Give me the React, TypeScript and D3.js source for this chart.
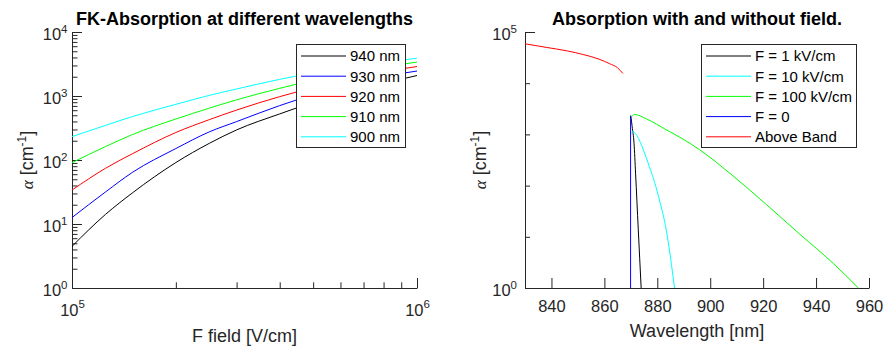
import { useEffect, useRef } from "react"
import * as d3 from "d3"

const W = 886
const H = 348

// left panel: FK absorption vs. field strength
const fieldValues = [1e5, 1.25e5, 1.5e5, 2e5, 2.5e5, 3e5, 4e5, 5e5, 7e5, 1e6]
const wavelengthLabels = ["940 nm", "930 nm", "920 nm", "910 nm", "900 nm"]
const alpha940 = [4.47, 14.1, 30.9, 91.2, 182, 295, 525, 794, 1318, 2089]
const alpha930 = [12.6, 31.6, 64.6, 151, 275, 398, 708, 1047, 1738, 2455]
const alpha920 = [33.9, 74.1, 126, 269, 427, 603, 977, 1349, 2089, 2884]
const alpha910 = [90.8, 162, 251, 437, 646, 871, 1318, 1758, 2512, 3388]
const alpha900 = [232, 347, 479, 741, 1023, 1288, 1820, 2291, 3055, 3890]
const fkColors = ["#000000", "#0000ff", "#ff0000", "#00ff00", "#00ffff"]

// right panel: absorption vs. wavelength
const fieldLabels = ["F = 1 kV/cm", "F = 10 kV/cm", "F = 100 kV/cm", "F = 0", "Above Band"]
const lambdaF1 = [870.0, 870.5, 871.2, 871.8, 872.8, 873.9]
const alphaF1 = [2291, 1413, 676, 170, 14.1, 1]
const lambdaF10 = [870.1, 870.8, 872, 873.2, 875, 877, 879, 880.8, 883.4, 886.5]
const alphaF10 = [1047, 1122, 1000, 776, 457, 234, 115, 52.5, 13.5, 1]
const lambdaF100 = [870.1, 871.3, 876, 883.4, 890, 896, 908.6, 921.2, 933.9, 946.5, 956]
const alphaF100 = [2138, 2455, 1995, 1230, 794, 501, 155, 42.7, 11.2, 3.02, 1]
const lambdaF0 = [869.9, 869.9]
const alphaF0 = [1, 2344]
const lambdaAbove = [830, 838, 846, 852, 858, 862, 865, 867]
const alphaAbove = [58900, 50100, 42700, 36300, 29500, 24000, 19950, 15500]
const fieldColors = ["#000000", "#00ffff", "#00ff00", "#0000ff", "#ff0000"]

const wavelengthTicks = [840, 860, 880, 900, 920, 940, 960]

export default function App() {
  const svgRef = useRef<SVGSVGElement>(null)

  useEffect(() => {
    if (!svgRef.current) return
    const svg = d3.select(svgRef.current)
    svg.selectAll("*").remove()

    const axisColor = "#262626"
    const font = "'Liberation Sans', Arial, Helvetica, sans-serif"
    const top = 32
    const bottom = 288

    const xL = d3.scaleLog().domain([1e5, 1e6]).range([72, 417])
    const yL = d3.scaleLog().domain([1, 1e4]).range([bottom, top])
    const xR = d3.scaleLinear().domain([830, 960]).range([525, 869])
    const yR = d3.scaleLog().domain([1, 1e5]).range([bottom, top])

    const defs = svg.append("defs")
    defs.append("clipPath").attr("id", "clipL").append("rect")
      .attr("x", 72).attr("y", top - 1).attr("width", 346).attr("height", bottom - top + 2)
    defs.append("clipPath").attr("id", "clipR").append("rect")
      .attr("x", 525).attr("y", top - 1).attr("width", 345).attr("height", bottom - top + 2)

    // 10^n labels
    const sup = (sel: any, rise: number, y: number, dy: number) => {
      sel.each(function (this: any, d: any) {
        const t = d3.select(this)
        t.text(null).attr("y", y).attr("dy", dy)
        t.append("tspan").text("10")
        t.append("tspan").attr("dy", -rise).attr("font-size", 11.5)
          .text(String(Math.round(Math.log10(d))))
      })
    }

    const styleAxis = (g: any) => {
      g.attr("font-family", font).attr("font-size", 16.5).attr("color", axisColor)
      g.selectAll("line").attr("stroke", axisColor)
      g.selectAll("path").attr("stroke", axisColor)
    }

    // ---------- left panel ----------
    const minorsL: number[] = []
    for (let e = 0; e < 4; e++) for (let m = 2; m <= 9; m++) minorsL.push(m * 10 ** e)
    const minorsLx: number[] = []
    for (let m = 2; m <= 9; m++) minorsLx.push(m * 1e5)

    const gyL = svg.append("g").attr("transform", "translate(72,0)")
      .call(d3.axisLeft(yL).tickValues([1, 10, 100, 1000, 10000]).tickSize(-10).tickSizeOuter(0).tickPadding(4.5))
    styleAxis(gyL)
    sup(gyL.selectAll("text"), 7, 0, 7.5)
    svg.append("g").attr("transform", "translate(72,0)")
      .call(d3.axisLeft(yL).tickValues(minorsL).tickSize(-5.5).tickFormat(() => ""))
      .call((g) => g.select(".domain").remove())
      .call(styleAxis)

    const gxL = svg.append("g").attr("transform", `translate(0,${bottom})`)
      .call(d3.axisBottom(xL).tickValues([1e5, 1e6]).tickSize(-10).tickSizeOuter(0))
    styleAxis(gxL)
    sup(gxL.selectAll("text"), 8, 27.7, 0)
    svg.append("g").attr("transform", `translate(0,${bottom})`)
      .call(d3.axisBottom(xL).tickValues(minorsLx).tickSize(-5.7).tickFormat(() => ""))
      .call((g) => g.select(".domain").remove())
      .call(styleAxis)

    const fkSeries = [alpha940, alpha930, alpha920, alpha910, alpha900]
    const lineL = d3.line<[number, number]>()
      .x((d) => xL(d[0])).y((d) => yL(d[1]))
      .curve(d3.curveMonotoneX)
    const plotL = svg.append("g").attr("clip-path", "url(#clipL)")
    fkSeries.forEach((vals, i) => {
      plotL.append("path")
        .datum(fieldValues.map((f, j) => [f, vals[j]] as [number, number]))
        .attr("d", lineL)
        .attr("fill", "none")
        .attr("stroke", fkColors[i])
        .attr("stroke-width", 1)
    })

    // ---------- right panel ----------
    const gyR = svg.append("g").attr("transform", "translate(525,0)")
      .call(d3.axisLeft(yR).tickValues([1, 1e5]).tickSize(-10).tickSizeOuter(0).tickPadding(8))
    styleAxis(gyR)
    sup(gyR.selectAll("text"), 7, 0, 7.7)
    svg.append("g").attr("transform", "translate(525,0)")
      .call(d3.axisLeft(yR).tickValues([10, 100, 1000, 10000]).tickSize(-5).tickFormat(() => ""))
      .call((g) => g.select(".domain").remove())
      .call(styleAxis)

    const gxR = svg.append("g").attr("transform", `translate(0,${bottom})`)
      .call(d3.axisBottom(xR).tickValues(wavelengthTicks).tickSize(-10).tickSizeOuter(0).tickFormat(d3.format("d")))
    styleAxis(gxR)
    gxR.selectAll("text").attr("y", 24.3).attr("dy", 0)

    const fieldSeries: [number[], number[]][] = [
      [lambdaF1, alphaF1],
      [lambdaF10, alphaF10],
      [lambdaF100, alphaF100],
      [lambdaF0, alphaF0],
      [lambdaAbove, alphaAbove],
    ]
    const lineR = d3.line<[number, number]>()
      .x((d) => xR(d[0])).y((d) => yR(d[1]))
      .curve(d3.curveMonotoneX)
    const plotR = svg.append("g").attr("clip-path", "url(#clipR)")
    fieldSeries.forEach(([xs, ys], i) => {
      plotR.append("path")
        .datum(xs.map((x, j) => [x, ys[j]] as [number, number]))
        .attr("d", xs === lambdaF0 ? lineR.curve(d3.curveLinear) : lineR.curve(d3.curveMonotoneX))
        .attr("fill", "none")
        .attr("stroke", fieldColors[i])
        .attr("stroke-width", 1)
    })

    // ---------- titles & labels ----------
    const title = (x: number, text: string) =>
      svg.append("text").attr("x", x).attr("y", 25)
        .attr("text-anchor", "middle").attr("font-family", font)
        .attr("font-size", 18).attr("font-weight", "bold").attr("fill", "#000")
        .text(text)
    title((72 + 417) / 2, "FK-Absorption at different wavelengths")
    title((525 + 869) / 2, "Absorption with and without field.")

    const xLabel = (x: number, y: number, text: string) =>
      svg.append("text").attr("x", x).attr("y", y)
        .attr("text-anchor", "middle").attr("font-family", font)
        .attr("font-size", 18).attr("fill", axisColor).text(text)
    xLabel((72 + 417) / 2, 341.5, "F field [V/cm]")
    xLabel((525 + 869) / 2, 337.3, "Wavelength [nm]")

    const yLabel = (x: number) => {
      const t = svg.append("text")
        .attr("transform", `translate(${x},160) rotate(-90)`)
        .attr("text-anchor", "middle").attr("font-family", font)
        .attr("font-size", 18).attr("fill", axisColor)
      t.append("tspan").attr("font-family", "'Liberation Serif', 'DejaVu Serif', serif")
        .attr("font-style", "italic").attr("font-size", 17).text("α")
      t.append("tspan").text(" [cm")
      t.append("tspan").attr("dy", -7).attr("font-size", 12).text("-1")
      t.append("tspan").attr("dy", 7).text("]")
    }
    yLabel(33)
    yLabel(486)

    // ---------- legends ----------
    const legend = (x: number, w: number, labels: string[], colors: string[]) => {
      const g = svg.append("g")
      g.append("rect").attr("x", x + 0.5).attr("y", 44.5).attr("width", w).attr("height", 103)
        .attr("fill", "#fff").attr("stroke", axisColor).attr("stroke-width", 1)
      labels.forEach((lab, i) => {
        const cy = 56 + i * 20.2
        g.append("line").attr("x1", x + 5).attr("x2", x + 50)
          .attr("y1", cy).attr("y2", cy)
          .attr("stroke", colors[i]).attr("stroke-width", 1)
        g.append("text").attr("x", x + 54).attr("y", cy + 5.3)
          .attr("font-family", font).attr("font-size", 15).attr("fill", "#000")
          .text(lab)
      })
    }
    legend(296, 109, wavelengthLabels, fkColors)
    legend(701, 155, fieldLabels, fieldColors)
  }, [])

  return (
    <svg
      ref={svgRef}
      width={W}
      height={H}
      style={{ position: "absolute", left: 0, top: 0, background: "#fff" }}
    />
  )
}
